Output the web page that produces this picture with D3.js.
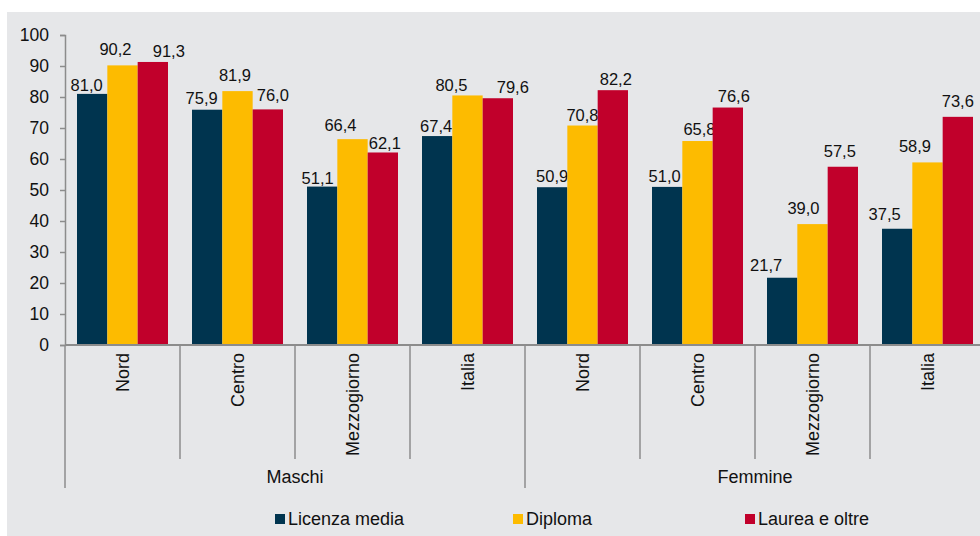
<!DOCTYPE html>
<html><head><meta charset="utf-8">
<script src="https://cdn.jsdelivr.net/npm/d3@7"></script>
<style>
body{margin:0;background:#fff;}
svg{display:block;}
svg text{font-family:"Liberation Sans",Arimo,Arial,sans-serif;}
</style></head>
<body>
<svg id="c" width="980" height="536"></svg>
<script>
const categories = ["Nord","Centro","Mezzogiorno","Italia","Nord","Centro","Mezzogiorno","Italia"];
const groups = ["Maschi","Femmine"];
const series = ["Licenza media","Diploma","Laurea e oltre"];
const licenza = [81.0,75.9,51.1,67.4,50.9,51.0,21.7,37.5];
const diploma = [90.2,81.9,66.4,80.5,70.8,65.8,39.0,58.9];
const laurea  = [91.3,76.0,62.1,79.6,82.2,76.6,57.5,73.6];
const yTicks = [0,10,20,30,40,50,60,70,80,90,100];
const colors = ["#00344f","#fdbb00","#c1002b"];

// layout only: hand-placed data-label nudges of the original (dx, gap above bar)
const labelDx  = [[-5.5,-5.5,-4.5,-1,0,-2.5,-16,-12.5],[-7,-2.5,-12,-16,0,2,-9,-12.5],[16,5,2,15,3,6,-3,0]];
const labelGap = [[3,5.7,2.3,4,5,5,7,9],[10,10,8,4.3,5,6,10,10],[4.7,8,3,5,5,5.7,9.7,9.7]];

(function(){
const values = [licenza, diploma, laurea];
const svg = d3.select("#c");
svg.append("rect").attr("x",7).attr("y",12).attr("width",973).attr("height",524).attr("fill","#e6e7e9");

const mLeft = 65, mRight = 985, mTop = 35, mBottom = 345;
const idx = d3.range(categories.length);
const x0 = d3.scaleBand().domain(idx).range([mLeft, mRight]).paddingInner(0).paddingOuter(0);
const x1 = d3.scaleBand().domain(d3.range(series.length)).range([12, x0.bandwidth()-12]).padding(0);
const y = d3.scaleLinear().domain([0,100]).range([mBottom, mTop]);
const fmt = v => d3.format(".1f")(v).replace(".", ",");
const axisCol = "#8c8c8c";
const txtCol = "#111";
const fsVal = 16.5, fsTick = 17.5, fsCat = 18;

// bars
idx.forEach(i => {
  const g = svg.append("g").attr("transform", `translate(${x0(i)},0)`);
  series.forEach((s, k) => {
    const v = values[k][i];
    g.append("rect").attr("x", x1(k)).attr("y", y(v)).attr("width", x1.bandwidth()).attr("height", y(0)-y(v)).attr("fill", colors[k]);
    g.append("text").attr("x", x1(k)+x1.bandwidth()/2 + labelDx[k][i]).attr("y", y(v)-labelGap[k][i]).attr("text-anchor","middle")
      .attr("font-size", fsVal).attr("fill", txtCol).text(fmt(v));
  });
});

// y axis
const ya = svg.append("g").attr("transform", `translate(${mLeft},0)`)
  .call(d3.axisLeft(y).tickValues(yTicks).tickSize(5).tickPadding(11).tickFormat(d3.format("d")));
ya.attr("font-family", null).attr("font-size", null);
ya.select(".domain").attr("stroke", axisCol).attr("stroke-width", 1.5);
ya.selectAll(".tick line").attr("stroke", axisCol).attr("stroke-width", 1.5);
ya.selectAll(".tick text").attr("font-size", fsTick).attr("fill", txtCol);

// x axis line
svg.append("line").attr("x1", mLeft).attr("x2", 980).attr("y1", mBottom).attr("y2", mBottom).attr("stroke", axisCol).attr("stroke-width", 2);

// separators
idx.forEach(i => {
  const xx = x0(i);
  const long = (i % 4 === 0);
  svg.append("line").attr("x1", xx).attr("x2", xx).attr("y1", mBottom).attr("y2", long ? 488 : 459)
    .attr("stroke", axisCol).attr("stroke-width", 1.5);
});

// category labels
idx.forEach(i => {
  const cx = x0(i) + x0.bandwidth()/2;
  svg.append("text").attr("transform", `translate(${cx},353) rotate(-90)`).attr("text-anchor","end")
    .attr("dy","0.35em").attr("font-size",fsCat).attr("fill",txtCol).text(categories[i]);
});

// group labels
groups.forEach((gname, j) => {
  const cx = (x0(j*4) + x0(j*4+3) + x0.bandwidth())/2;
  svg.append("text").attr("x", cx).attr("y", 483).attr("text-anchor","middle").attr("font-size",fsCat).attr("fill",txtCol).text(gname);
});

// legend
const legX = [275, 513, 745];
series.forEach((s,k) => {
  svg.append("rect").attr("x", legX[k]).attr("y", 514).attr("width", 10).attr("height", 10).attr("fill", colors[k]);
  svg.append("text").attr("x", legX[k]+13).attr("y", 525).attr("font-size",fsCat).attr("fill",txtCol).text(s);
});
})();
</script>
</body></html>
